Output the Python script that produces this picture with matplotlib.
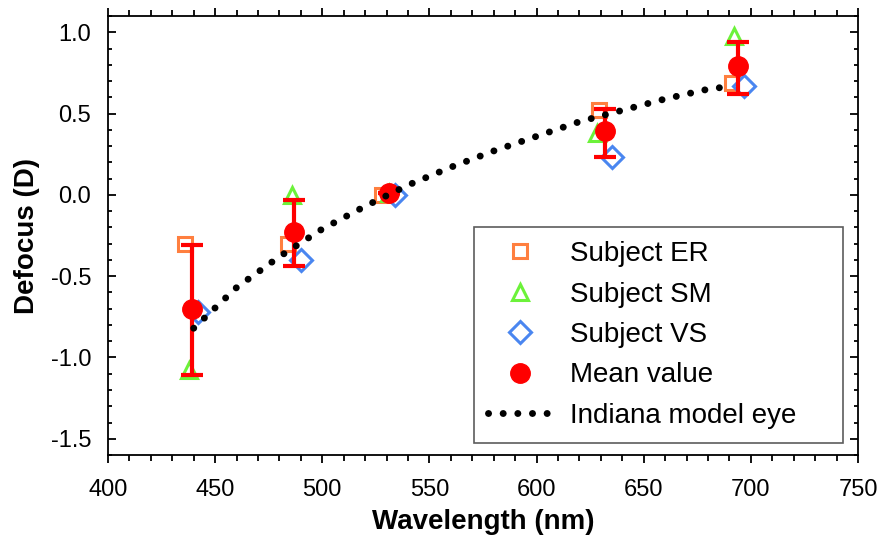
import matplotlib.pyplot as plt
from matplotlib.ticker import MultipleLocator

plt.rcParams['font.family'] = ['Liberation Sans', 'DejaVu Sans']
plt.rcParams['axes.unicode_minus'] = False

# subject measurements (wavelength nm, defocus D)
er_wl = [436, 484, 528, 629, 691]
er_def = [-0.30, -0.30, 0.00, 0.52, 0.69]
sm_wl = [438, 486, 531, 628, 692]
sm_def = [-1.08, 0.00, 0.01, 0.38, 0.98]
vs_wl = [442, 490, 534, 635, 697]
vs_def = [-0.72, -0.40, 0.00, 0.23, 0.67]

mean_wl = [439, 487, 531, 632, 694]
mean_def = [-0.70, -0.23, 0.01, 0.39, 0.79]
err_lo = [0.41, 0.21, 0.0, 0.155, 0.17]
err_hi = [0.39, 0.20, 0.0, 0.14, 0.15]

# Indiana model eye curve
model_wl = [440, 460, 480, 500, 520, 540, 560, 580, 600, 620, 640, 660, 680, 692]
model_def = [-0.82, -0.57, -0.38, -0.21, -0.07, 0.06, 0.17, 0.27, 0.36, 0.45, 0.52, 0.59, 0.65, 0.67]

fig = plt.figure(figsize=(8.83, 5.39), dpi=100)
ax = fig.add_axes([0.1223, 0.1558, 0.8494, 0.8145])

h1, = ax.plot(er_wl, er_def, 's', ms=10, mfc='white', mec='#FF7F3F', mew=2.2, ls='none', label='Subject ER')
h2, = ax.plot(sm_wl, sm_def, '^', ms=12, mfc='white', mec='#6CF23A', mew=2.2, ls='none', label='Subject SM')
h3, = ax.plot(vs_wl, vs_def, 'D', ms=11, mfc='white', mec='#4A86F0', mew=2.2, ls='none', label='Subject VS')
ax.errorbar(mean_wl, mean_def, yerr=[err_lo, err_hi], fmt='none',
            ecolor='#FF0000', elinewidth=3, capsize=8, capthick=3)
h4, = ax.plot(mean_wl, mean_def, 'o', ms=14, color='#FF0000', ls='none', label='Mean value')
h5, = ax.plot(model_wl, model_def, color='black', lw=5, ls=(0, (0.01, 2.1)),
              dash_capstyle='round', label='Indiana model eye')

ax.set_xlim(400, 750)
ax.set_ylim(-1.6, 1.1)
ax.xaxis.set_major_locator(MultipleLocator(50))
ax.xaxis.set_minor_locator(MultipleLocator(10))
ax.yaxis.set_major_locator(MultipleLocator(0.5))
ax.yaxis.set_minor_locator(MultipleLocator(0.1))
ax.yaxis.set_major_formatter(plt.FormatStrFormatter('%.1f'))

ax.tick_params(axis='x', which='both', direction='out', top=True, labelsize=17, pad=11, width=1.3)
ax.tick_params(axis='x', which='major', length=6)
ax.tick_params(axis='x', which='minor', length=4)
ax.tick_params(axis='y', which='both', direction='in', right=True, labelsize=17, pad=12, width=1.3)
ax.tick_params(axis='y', which='major', length=6)
ax.tick_params(axis='y', which='minor', length=3)
for s in ax.spines.values():
    s.set_linewidth(1.3)

ax.set_xlabel('Wavelength (nm)', fontsize=20, fontweight='bold', labelpad=6)
ax.set_ylabel('Defocus (D)', fontsize=20, fontweight='bold', labelpad=8)

leg = ax.legend(handles=[h1, h2, h3, h4, h5], loc='upper left',
                bbox_to_anchor=(0.488, 0.03, 0.492, 0.489), mode='expand',
                borderaxespad=0, fontsize=20, frameon=True, fancybox=False,
                edgecolor='#333333', handlelength=2.3, handletextpad=0.65,
                labelspacing=0.52, borderpad=0.5, numpoints=1)
leg.get_frame().set_linewidth(1.2)

fig.savefig('out.png', dpi=100)
